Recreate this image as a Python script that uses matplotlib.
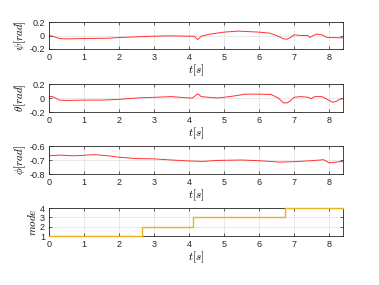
import numpy as np
import matplotlib.pyplot as plt

plt.rcParams['mathtext.fontset'] = 'cm'
plt.rcParams['font.family'] = ['Liberation Sans', 'DejaVu Sans']

# psi [rad]
t_psi = [0, 0.1, 0.3, 0.5, 1.0, 1.7, 2.0, 2.5, 3.0, 3.5, 4.0, 4.15, 4.25, 4.35,
         4.6, 5.0, 5.4, 6.0, 6.3, 6.5, 6.7, 6.8, 6.9, 7.0, 7.2, 7.4, 7.45, 7.55,
         7.65, 7.8, 7.95, 8.4]
psi = [0.0, -0.01, -0.045, -0.05, -0.045, -0.04, -0.03, -0.02, -0.01, -0.005,
       -0.01, -0.01, -0.06, -0.01, 0.02, 0.05, 0.065, 0.05, 0.035, 0.0, -0.05,
       -0.055, -0.03, 0.01, 0.0, 0.0, -0.03, 0.0, 0.02, 0.01, -0.03, -0.035]

# theta [rad]
t_theta = [0, 0.1, 0.3, 0.5, 1.0, 1.5, 2.0, 2.5, 3.0, 3.5, 4.0, 4.1, 4.25, 4.35,
           4.8, 5.0, 5.3, 5.6, 6.0, 6.35, 6.55, 6.7, 6.8, 6.9, 7.0, 7.2, 7.4,
           7.5, 7.55, 7.6, 7.8, 7.95, 8.1, 8.2, 8.3, 8.4]
theta = [0.02, 0.02, -0.03, -0.035, -0.03, -0.03, -0.02, 0.0, 0.01, 0.02, 0.0,
         0.0, 0.06, 0.02, 0.0, 0.01, 0.03, 0.055, 0.055, 0.05, 0.0, -0.07,
         -0.07, -0.04, 0.01, 0.02, 0.01, -0.01, 0.01, 0.02, 0.02, -0.02, -0.06,
         -0.05, -0.02, -0.01]

# phi [rad]
t_phi = [0, 0.3, 0.7, 1.3, 1.7, 2.0, 2.5, 3.0, 3.5, 4.0, 4.4, 4.8, 5.5, 6.0,
         6.6, 7.0, 7.5, 7.85, 8.0, 8.4]
phi = [-0.67, -0.665, -0.67, -0.662, -0.67, -0.68, -0.69, -0.692, -0.7, -0.707,
       -0.71, -0.703, -0.7, -0.705, -0.715, -0.712, -0.705, -0.698, -0.72, -0.71]

# mode
t_mode = [0, 2.65, 4.1, 6.75, 8.4]
mode = [1, 2, 3, 4, 4]

fig = plt.figure(figsize=(3.79, 2.85), dpi=100)
W, H = 379, 285
boxes = [(22, 49), (84, 112), (146, 174), (208, 236)]
axes = []
for top, bot in boxes:
    ax = fig.add_axes([49 / W, 1 - bot / H, (343 - 49) / W, (bot - top) / H])
    axes.append(ax)

red = '#ff3030'
axes[0].plot(t_psi, psi, color=red, lw=0.7)
axes[1].plot(t_theta, theta, color=red, lw=0.7)
axes[2].plot(t_phi, phi, color=red, lw=0.7)
axes[3].step(t_mode, mode, where='post', color='#EDB120', lw=1.0,
             clip_on=False, zorder=5)

ylims = [(-0.2, 0.2), (-0.2, 0.2), (-0.8, -0.6), (1, 4)]
yticks = [[-0.2, 0, 0.2], [-0.2, 0, 0.2], [-0.8, -0.7, -0.6], [1, 2, 3, 4]]
yticklabels = [['-0.2', '0', '0.2'], ['-0.2', '0', '0.2'],
               ['-0.8', '-0.7', '-0.6'], ['1', '2', '3', '4']]
ylabels = [r'$\psi[rad]$', r'$\theta[rad]$', r'$\phi[rad]$', r'$mode$']

for ax, yl, yt, ytl, lab in zip(axes, ylims, yticks, yticklabels, ylabels):
    ax.set_xlim(0, 8.4)
    ax.set_ylim(*yl)
    ax.set_xticks(range(0, 9))
    ax.set_yticks(yt)
    ax.set_yticklabels(ytl)
    ax.grid(True, color='#e0e0e0', lw=0.5)
    ax.set_axisbelow(True)
    ax.tick_params(direction='in', top=True, right=True, length=2.5, width=0.5,
                   labelsize=6.5, pad=3, colors='#262626')
    for s in ax.spines.values():
        s.set_color('#262626')
        s.set_linewidth(0.6)
    ax.set_xlabel(r'$t[s]$', fontsize=8, labelpad=0)
    ax.set_ylabel(lab, fontsize=8, labelpad=1)

fig.savefig('out.png', dpi=100)
